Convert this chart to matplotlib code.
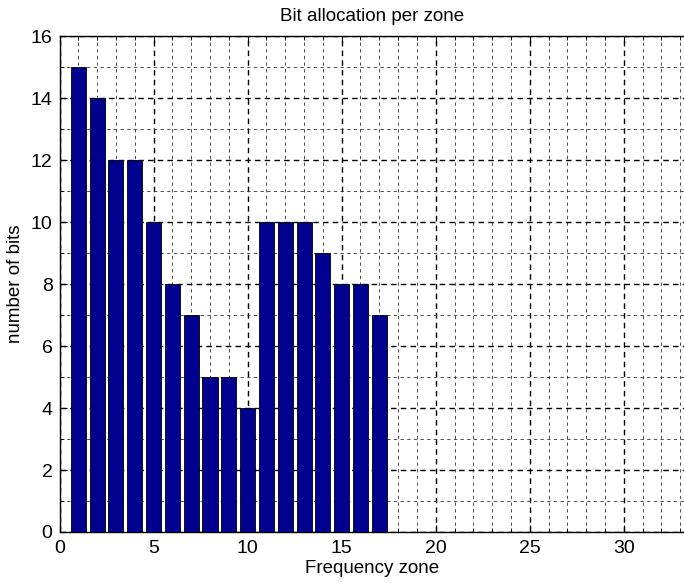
import numpy as np
import matplotlib
matplotlib.use('Agg')
import matplotlib.pyplot as plt
from matplotlib.ticker import MultipleLocator

plt.rcParams['font.family'] = ['Liberation Sans', 'DejaVu Sans']

# 데이터
zones = np.arange(1, 18)
bits = [15, 14, 12, 12, 10, 8, 7, 5, 5, 4, 10, 10, 10, 9, 8, 8, 7]

fig = plt.figure(figsize=(6.84, 5.83), dpi=100)
# 오른쪽 테두리는 그림 가장자리에서 잘려 있음
ax = fig.add_axes([0.087, 0.0875, 0.913, 0.850])

ax.bar(zones, bits, width=0.8, color='#00008f', edgecolor='black', linewidth=0.6, zorder=3)

ax.set_xlim(0, 33.2)
ax.set_ylim(0, 16)
ax.xaxis.set_major_locator(MultipleLocator(5))
ax.xaxis.set_minor_locator(MultipleLocator(1))
ax.yaxis.set_major_locator(MultipleLocator(2))
ax.yaxis.set_minor_locator(MultipleLocator(1))
ax.set_xticks([0, 5, 10, 15, 20, 25, 30])

ax.grid(which='major', color='black', linestyle=(0, (4, 3)), linewidth=1.0, zorder=1)
ax.grid(which='minor', color='#333333', linestyle=(0, (4, 4)), linewidth=0.6, zorder=1)
ax.set_axisbelow(True)

ax.tick_params(which='both', direction='in', top=True, right=False, labelsize=14)
ax.tick_params(which='major', length=5)
ax.tick_params(axis='x', which='major', pad=6)
ax.tick_params(axis='y', which='major', pad=5)
ax.tick_params(which='minor', length=3)
for s in ax.spines.values():
    s.set_linewidth(1.0)
ax.spines['right'].set_visible(False)

ax.set_title('Bit allocation per zone', fontsize=13.5, pad=11)
ax.set_xlabel('Frequency zone', fontsize=13.5, labelpad=2)
ax.set_ylabel('number of bits', fontsize=13.5, labelpad=5)

fig.savefig('out.png', dpi=100)
